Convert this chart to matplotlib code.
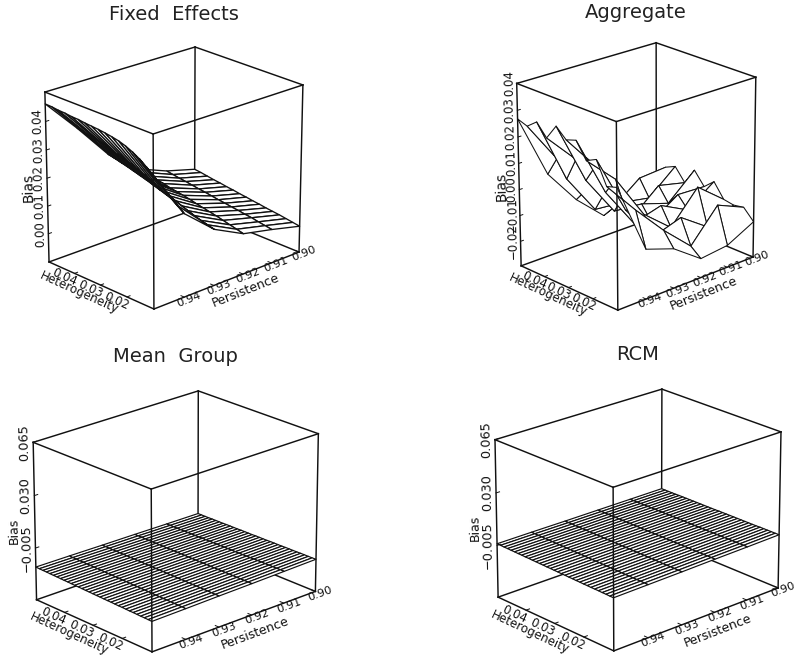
import math
import numpy as np
import matplotlib
matplotlib.use('Agg')
import matplotlib.pyplot as plt
from mpl_toolkits.mplot3d import proj3d

W, H = 798, 657

# grid of the surfaces
persistence = [0.95, 0.94, 0.93, 0.92, 0.91, 0.90]
het_lo, het_hi = 0.01, 0.05
pers_lo, pers_hi = 0.90, 0.95

het_ticks = [0.04, 0.03, 0.02]
het_labels = ['0.04', '0.03', '0.02']
pers_ticks = [0.94, 0.93, 0.92, 0.91, 0.90]
pers_labels = ['0.94', '0.93', '0.92', '0.91', '0.90']

# Fixed Effects, one list per persistence value, heterogeneity 0.05 -> 0.01
fe_95 = [.0461, .0460, .0457, .0456, .0453, .0452, .0449, .0447, .0445, .0442, .0438, .0433, .0425, .0414, .0400, .0382, .0363]
fe_94 = [.0342, .0338, .0333, .0329, .0322, .0316, .0309, .0303, .0294, .0285, .0275, .0265, .0253, .0241, .0229, .0211, .0193]
fe_93 = [.0214, .0209, .0203, .0197, .0190, .0183, .0176, .0168, .0160, .0152, .0143, .0134, .0126, .0118, .0111, .0105, .0099]
fe_92 = [.0124, .0121, .0116, .0112, .0108, .0102, .0098, .0094, .0089, .0083, .0078, .0073, .0068, .0062, .0056, .0050, .0044]
fe_91 = [.0080, .0076, .0072, .0069, .0065, .0061, .0058, .0054, .0050, .0047, .0043, .0040, .0036, .0033, .0028, .0024, .0020]
fe_90 = [.0050, .0047, .0043, .0039, .0036, .0032, .0029, .0025, .0022, .0018, .0015, .0011, .0008, .0005, .0001, -.0003, -.0007]

# Aggregate
ag_95 = [.0268, .0255, .0285, .0240, .0298, .0262, .0275, .0215, .0234, .0150, .0162]
ag_94 = [.0023, .0098, .0035, .0125, .0060, .0130, .0045, .0110, .0010, .0025, -.0106]
ag_93 = [-.0113, -.0062, -.0120, -.0040, -.0095, -.0020, -.0110, -.0060, -.0130, -.0090, -.0144]
ag_92 = [-.0214, -.0168, -.0130, -.0175, -.0105, -.0160, -.0080, -.0150, -.0095, -.0190, -.0222]
ag_91 = [-.0165, -.0086, -.0150, -.0085, -.0140, -.0090, -.0135, -.0030, -.0170, -.0069, -.0210]
ag_90 = [-.0134, -.0078, -.0060, -.0110, -.0045, -.0095, -.0060, -.0115, -.0122, -.0115, -.0156]

# Mean Group
mg_95 = [-.0178, -.0179, -.0180, -.0180, -.0181, -.0182, -.0182, -.0183, -.0184, -.0184, -.0185,
         -.0186, -.0186, -.0187, -.0188, -.0188, -.0189, -.0190, -.0190, -.0191, -.0192, -.0192,
         -.0193, -.0194, -.0194, -.0195, -.0196, -.0196, -.0197, -.0198, -.0198, -.0199, -.0200]
mg_94 = [-.0180, -.0181, -.0181, -.0182, -.0182, -.0183, -.0183, -.0184, -.0184, -.0185, -.0185,
         -.0186, -.0186, -.0187, -.0187, -.0188, -.0188, -.0189, -.0190, -.0190, -.0191, -.0191,
         -.0192, -.0192, -.0193, -.0193, -.0194, -.0194, -.0195, -.0195, -.0196, -.0196, -.0197]
mg_93 = [-.0183, -.0183, -.0184, -.0184, -.0184, -.0185, -.0185, -.0185, -.0186, -.0186, -.0186,
         -.0186, -.0187, -.0187, -.0187, -.0188, -.0188, -.0188, -.0189, -.0189, -.0189, -.0190,
         -.0190, -.0190, -.0191, -.0191, -.0191, -.0192, -.0192, -.0192, -.0193, -.0193, -.0193]
mg_92 = [-.0185, -.0185, -.0185, -.0186, -.0186, -.0186, -.0186, -.0186, -.0186, -.0187, -.0187,
         -.0187, -.0187, -.0187, -.0187, -.0188, -.0188, -.0188, -.0188, -.0188, -.0188, -.0189,
         -.0189, -.0189, -.0189, -.0189, -.0189, -.0189, -.0190, -.0190, -.0190, -.0190, -.0190]
mg_91 = [-.0188, -.0188, -.0188, -.0188, -.0188, -.0188, -.0188, -.0188, -.0188, -.0188, -.0187,
         -.0187, -.0187, -.0187, -.0187, -.0187, -.0187, -.0187, -.0187, -.0187, -.0187, -.0187,
         -.0187, -.0187, -.0186, -.0186, -.0186, -.0186, -.0186, -.0186, -.0186, -.0186, -.0186]
mg_90 = [-.0190, -.0190, -.0190, -.0190, -.0189, -.0189, -.0189, -.0189, -.0188, -.0188, -.0188,
         -.0188, -.0187, -.0187, -.0187, -.0187, -.0186, -.0186, -.0186, -.0186, -.0185, -.0185,
         -.0185, -.0185, -.0184, -.0184, -.0184, -.0184, -.0183, -.0183, -.0183, -.0183, -.0182]

# RCM
rc_95 = [-.0039, -.0039, -.0040, -.0040, -.0041, -.0041, -.0042, -.0042, -.0043, -.0043, -.0044,
         -.0044, -.0045, -.0045, -.0046, -.0046, -.0047, -.0047, -.0048, -.0048, -.0049, -.0049,
         -.0050, -.0050, -.0051, -.0051, -.0052, -.0052, -.0052, -.0053, -.0053, -.0054, -.0054]
rc_94 = [-.0039, -.0039, -.0040, -.0040, -.0041, -.0041, -.0041, -.0042, -.0042, -.0042, -.0043,
         -.0043, -.0044, -.0044, -.0044, -.0045, -.0045, -.0046, -.0046, -.0046, -.0047, -.0047,
         -.0048, -.0048, -.0048, -.0049, -.0049, -.0049, -.0050, -.0050, -.0050, -.0051, -.0051]
rc_93 = [-.0040, -.0040, -.0040, -.0041, -.0041, -.0041, -.0041, -.0042, -.0042, -.0042, -.0042,
         -.0043, -.0043, -.0043, -.0043, -.0044, -.0044, -.0044, -.0044, -.0045, -.0045, -.0045,
         -.0045, -.0046, -.0046, -.0046, -.0046, -.0047, -.0047, -.0047, -.0047, -.0048, -.0048]
rc_92 = [-.0040, -.0040, -.0040, -.0040, -.0040, -.0040, -.0041, -.0041, -.0041, -.0041, -.0041,
         -.0041, -.0042, -.0042, -.0042, -.0042, -.0042, -.0042, -.0042, -.0043, -.0043, -.0043,
         -.0043, -.0043, -.0043, -.0043, -.0044, -.0044, -.0044, -.0044, -.0044, -.0044, -.0044]
rc_91 = [-.0040, -.0040, -.0040, -.0040, -.0040, -.0040, -.0040, -.0040, -.0040, -.0040, -.0040,
         -.0040, -.0040, -.0040, -.0040, -.0040, -.0041, -.0041, -.0041, -.0041, -.0041, -.0041,
         -.0041, -.0041, -.0041, -.0041, -.0041, -.0041, -.0041, -.0041, -.0041, -.0041, -.0041]
rc_90 = [-.0040, -.0040, -.0040, -.0040, -.0040, -.0039, -.0039, -.0039, -.0039, -.0039, -.0039,
         -.0039, -.0039, -.0039, -.0039, -.0039, -.0038, -.0038, -.0038, -.0038, -.0038, -.0038,
         -.0038, -.0038, -.0038, -.0038, -.0038, -.0037, -.0037, -.0037, -.0037, -.0037, -.0037]

panels = [
    {'title': 'Fixed  Effects', 'title_xy': (174, 14),
     'z': [fe_95, fe_94, fe_93, fe_92, fe_91, fe_90],
     'zlim': (-0.0103, 0.0502),
     'zticks': [0.0, 0.01, 0.02, 0.03, 0.04],
     'zlabels': ['0.00', '0.01', '0.02', '0.03', '0.04'],
     'corners': {'tl': (45, 92), 'tf': (153, 134), 'tr': (303, 85), 'tb': (195, 47),
                 'bl': (49, 262), 'bf': (154, 309), 'br': (299, 252)},
     'bias_size': 10, 'ztick_size': 8.5, 'surface_lw': 0.95},
    {'title': 'Aggregate', 'title_xy': (636, 12),
     'z': [ag_95, ag_94, ag_93, ag_92, ag_91, ag_90],
     'zlim': (-0.0296, 0.04),
     'zticks': [-0.02, -0.01, 0.0, 0.01, 0.02, 0.03, 0.04],
     'zlabels': ['\u22120.02', '\u22120.01', '0.00', '0.01', '0.02', '0.03', '0.04'],
     'corners': {'tl': (517, 83), 'tf': (616, 122), 'tr': (756, 77), 'tb': (656, 43),
                 'bl': (521, 266), 'bf': (618, 310), 'br': (753, 257)},
     'bias_size': 10, 'ztick_size': 8.5, 'surface_lw': 0.75},
    {'title': 'Mean  Group', 'title_xy': (175, 357),
     'z': [mg_95, mg_94, mg_93, mg_92, mg_91, mg_90],
     'zlim': (-0.04, 0.065),
     'zticks': [-0.005, 0.03, 0.065],
     'zlabels': ['\u22120.005', '0.030', '0.065'],
     'corners': {'tl': (33, 443), 'tf': (151, 489), 'tr': (318, 433), 'tb': (199, 391),
                 'bl': (36, 599), 'bf': (153, 652), 'br': (315, 592)},
     'bias_size': 9, 'ztick_size': 9.3, 'surface_lw': 0.85},
    {'title': 'RCM', 'title_xy': (638, 355),
     'z': [rc_95, rc_94, rc_93, rc_92, rc_91, rc_90],
     'zlim': (-0.04, 0.065),
     'zticks': [-0.005, 0.03, 0.065],
     'zlabels': ['\u22120.005', '0.030', '0.065'],
     'corners': {'tl': (495, 440), 'tf': (613, 487), 'tr': (781, 432), 'tb': (662, 389),
                 'bl': (498, 597), 'bf': (614, 651), 'br': (778, 588)},
     'bias_size': 9, 'ztick_size': 9.3, 'surface_lw': 0.85},
]

plt.rcParams['font.family'] = 'DejaVu Sans'
fig = plt.figure(figsize=(W / 100, H / 100), dpi=100)


def fit_camera(ax, corners, zlim):
    # box corners in the picture -> a projective camera for this Axes3D
    world = {'tl': (1, 1, 1), 'tf': (0, 1, 1), 'tr': (0, 0, 1), 'tb': (1, 0, 1),
             'bl': (1, 1, 0), 'bf': (0, 1, 0), 'br': (0, 0, 0)}
    rows, rhs = [], []
    for key, (nx, ny, nz) in world.items():
        px, py = corners[key]
        vx, vy = ax.transData.inverted().transform((px, H - py))
        rows.append([nx, ny, nz, 1, 0, 0, 0, 0, -vx * nx, -vx * ny, -vx * nz])
        rows.append([0, 0, 0, 0, nx, ny, nz, 1, -vy * nx, -vy * ny, -vy * nz])
        rhs += [vx, vy]
    p = np.linalg.lstsq(np.array(rows, dtype=float), np.array(rhs), rcond=None)[0]
    cam = np.array([p[:4],
                    p[4:8],
                    [1, -1, -0.5, 1],  # bigger = further away, for the polygon sort
                    [p[8], p[9], p[10], 1]])
    scale = np.array([[1 / (het_hi - het_lo), 0, 0, -het_lo / (het_hi - het_lo)],
                      [0, 1 / (pers_hi - pers_lo), 0, -pers_lo / (pers_hi - pers_lo)],
                      [0, 0, 1 / (zlim[1] - zlim[0]), -zlim[0] / (zlim[1] - zlim[0])],
                      [0, 0, 0, 1]])
    return cam @ scale


def label(ax, M, pos, along, s, size):
    # flat text at a 3d position, turned to follow the direction "along"
    xs = [pos[0], pos[0] + along[0]]
    ys = [pos[1], pos[1] + along[1]]
    zs = [pos[2], pos[2] + along[2]]
    tx, ty, _ = proj3d.proj_transform(np.array(xs), np.array(ys), np.array(zs), M)
    angle = math.degrees(math.atan2(ty[1] - ty[0], tx[1] - tx[0]))
    ax.text2D(tx[0], ty[0], s, transform=ax.transData, rotation=angle, rotation_mode='anchor',
              fontsize=size, ha='center', va='center', color='#111111')


for panel in panels:
    c = panel['corners']
    xs = [v[0] for v in c.values()]
    ys = [v[1] for v in c.values()]
    size = max(max(xs) - min(xs), max(ys) - min(ys)) + 40
    x0 = (min(xs) + max(xs)) / 2 - size / 2
    y0 = H - (min(ys) + max(ys)) / 2 - size / 2
    ax = fig.add_axes([x0 / W, y0 / H, size / W, size / H], projection='3d',
                      computed_zorder=False, proj_type='ortho')
    ax.set_axis_off()
    ax.patch.set_visible(False)
    ax.apply_aspect()
    M = fit_camera(ax, c, panel['zlim'])
    ax.get_proj = lambda M=M: M

    zlo, zhi = panel['zlim']
    z = np.column_stack(panel['z'])
    het = np.linspace(het_hi, het_lo, z.shape[0])
    X, Y = np.meshgrid(het, persistence, indexing='ij')

    # corners of the box as (het, pers)
    L = (het_hi, pers_hi)
    F = (het_lo, pers_hi)
    R = (het_lo, pers_lo)
    B = (het_hi, pers_lo)

    def edge(a, za, b, zb, zo):
        ax.plot([a[0], b[0]], [a[1], b[1]], [za, zb], color='#111111', lw=1.05, zorder=zo)

    # parts of the box behind the surface
    edge(L, zlo, B, zlo, 1)
    edge(B, zlo, R, zlo, 1)
    edge(B, zlo, B, zhi, 1)

    ax.plot_surface(X, Y, z, rstride=1, cstride=1, color='white', edgecolor='#111111',
                    linewidth=panel['surface_lw'], shade=False, zorder=2)

    # the rest of the box goes over it
    edge(L, zlo, F, zlo, 3)
    edge(F, zlo, R, zlo, 3)
    edge(L, zhi, F, zhi, 3)
    edge(F, zhi, R, zhi, 3)
    edge(R, zhi, B, zhi, 3)
    edge(B, zhi, L, zhi, 3)
    edge(L, zlo, L, zhi, 3)
    edge(F, zlo, F, zhi, 3)
    edge(R, zlo, R, zhi, 3)

    # ticks and tick labels
    for t, s in zip(het_ticks, het_labels):
        ax.plot([t, t], [pers_hi, pers_hi - 0.001], [zlo, zlo], color='#111111', lw=0.7, zorder=3)
        label(ax, M, (t, pers_hi + 0.0034, zlo), (-0.01, 0, 0), s, 8.5)
    for t, s in zip(pers_ticks, pers_labels):
        ax.plot([het_lo, het_lo + 0.0012], [t, t], [zlo, zlo], color='#111111', lw=0.7, zorder=3)
        label(ax, M, (het_lo - 0.0017, t, zlo), (0, -0.01, 0), s, 8.2)
    for t, s in zip(panel['zticks'], panel['zlabels']):
        ax.plot([het_hi, het_hi], [pers_hi, pers_hi - 0.001], [t, t], color='#111111', lw=0.7, zorder=3)
        label(ax, M, (het_hi + 0.0014, pers_hi + 0.0015, t), (0, 0, 0.01), s, panel['ztick_size'])

    # axis names
    zmid = zlo + 0.445 * (zhi - zlo)
    label(ax, M, (het_hi + 0.0033, pers_hi + 0.0035, zmid), (0, 0, 0.01), 'Bias', panel['bias_size'])
    label(ax, M, (0.03, pers_hi + 0.007, zlo), (-0.01, 0, 0), 'Heterogeneity', 8.6)
    label(ax, M, (0.002, 0.9265, zlo), (0, -0.01, 0), 'Persistence', 9)

    tx, ty = panel['title_xy']
    fig.text(tx / W, 1 - ty / H, panel['title'], fontsize=14, ha='center', va='center', color='#222222')

fig.savefig('out.png', dpi=100)
